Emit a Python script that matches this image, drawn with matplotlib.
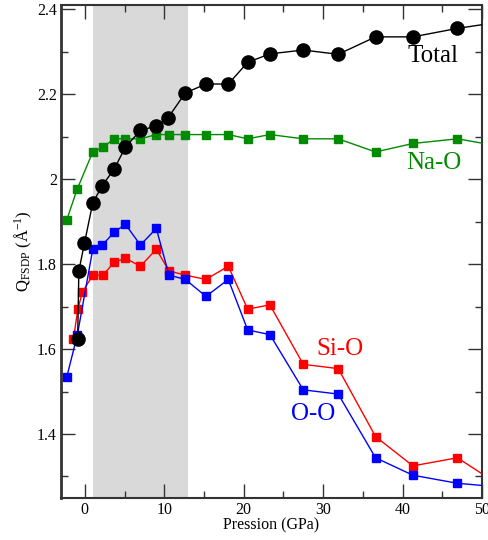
import matplotlib
matplotlib.use("Agg")
import matplotlib.pyplot as plt
from matplotlib.ticker import MultipleLocator, FuncFormatter

plt.rcParams['font.family'] = ['Liberation Serif', 'DejaVu Serif']
plt.rcParams['mathtext.fontset'] = 'custom'
plt.rcParams['mathtext.rm'] = 'Liberation Serif'
plt.rcParams['mathtext.it'] = 'Liberation Serif:italic'

# Data (pressure in GPa, Q_FSDP in 1/Angstrom)
total_p = [-0.9, -0.75, -0.05, 1.0, 2.2, 3.7, 5.1, 7.0, 9.0, 10.5, 12.65, 15.25, 18.06, 20.5, 23.3, 27.5, 31.9, 36.6, 41.3, 46.9, 53.0]
total_q = [1.623, 1.784, 1.849, 1.944, 1.985, 2.024, 2.075, 2.115, 2.125, 2.145, 2.203, 2.224, 2.224, 2.275, 2.295, 2.304, 2.294, 2.335, 2.335, 2.355, 2.372]

nao_p = [-2.26, -0.97, 1.0, 2.26, 3.7, 5.1, 7.0, 9.0, 10.6, 12.65, 15.25, 18.06, 20.5, 23.3, 27.5, 31.9, 36.6, 41.3, 46.9, 53.0]
nao_q = [1.905, 1.976, 2.064, 2.075, 2.095, 2.095, 2.095, 2.105, 2.105, 2.105, 2.105, 2.105, 2.095, 2.105, 2.095, 2.095, 2.064, 2.084, 2.095, 2.075]

sio_p = [-1.43, -0.88, -0.3, 1.0, 2.26, 3.7, 5.1, 7.0, 9.0, 10.6, 12.65, 15.25, 18.06, 20.5, 23.3, 27.5, 31.9, 36.6, 41.3, 46.9, 53.0]
sio_q = [1.623, 1.694, 1.734, 1.774, 1.774, 1.804, 1.814, 1.795, 1.835, 1.784, 1.774, 1.764, 1.795, 1.694, 1.704, 1.564, 1.554, 1.394, 1.325, 1.344, 1.27]

oo_p = [-2.26, -0.93, 1.0, 2.2, 3.7, 5.1, 7.0, 9.0, 10.6, 12.65, 15.25, 18.06, 20.5, 23.3, 27.5, 31.9, 36.6, 41.3, 46.9, 53.0]
oo_q = [1.535, 1.634, 1.835, 1.845, 1.875, 1.894, 1.845, 1.884, 1.774, 1.764, 1.724, 1.764, 1.645, 1.634, 1.504, 1.494, 1.344, 1.303, 1.284, 1.274]

shade_range = (1.0, 13.0)

fig = plt.figure(figsize=(4.89, 5.4), dpi=100)
ax = fig.add_axes([0.1247, 0.0783, 0.861, 0.9124])

ax.axvspan(shade_range[0], shade_range[1], color='#d9d9d9', lw=0, zorder=0)

green = '#008b00'
ax.plot(nao_p, nao_q, '-s', color=green, ms=6, lw=1, zorder=3)
ax.plot(sio_p, sio_q, '-s', color='#ff0000', ms=6, lw=1, zorder=3)
ax.plot(oo_p, oo_q, '-s', color='#0000ff', ms=6, lw=1, zorder=4)
ax.plot(total_p, total_q, '-o', color='black', ms=9.5, lw=1, zorder=5)

ax.set_xlim(-3, 50)
ax.set_ylim(1.25, 2.41)

ax.xaxis.set_major_locator(MultipleLocator(10))
ax.xaxis.set_minor_locator(MultipleLocator(5))
ax.yaxis.set_major_locator(MultipleLocator(0.2))
ax.yaxis.set_minor_locator(MultipleLocator(0.1))
ax.yaxis.set_major_formatter(FuncFormatter(lambda v, p: '%g' % round(v, 2)))

ax.tick_params(which='both', direction='in', top=True, right=True, labelsize=11.5,
               colors='#333333', labelcolor='black')
ax.tick_params(which='major', length=10, width=1, pad=3)
ax.tick_params(which='minor', length=5, width=1)
for s in ax.spines.values():
    s.set_linewidth(1.5)
    s.set_color('#333333')
ax.spines['left'].set_linewidth(2)

ax.set_xlabel('Pression (GPa)', fontsize=11.5, labelpad=0)
ax.set_ylabel(r'Q$_{\mathrm{FSDP}}$ ($\mathrm{\AA}^{-1}$)', fontsize=12, labelpad=2)

ax.text(40.6, 2.2765, 'Total', fontsize=18, color='black')
ax.text(40.4, 2.0245, 'Na-O', fontsize=18, color=green)
ax.text(29.1, 1.5855, 'Si-O', fontsize=18, color='#ff0000')
ax.text(26.0, 1.4325, 'O-O', fontsize=18, color='#0000ff')

fig.savefig('out.png', dpi=100)
